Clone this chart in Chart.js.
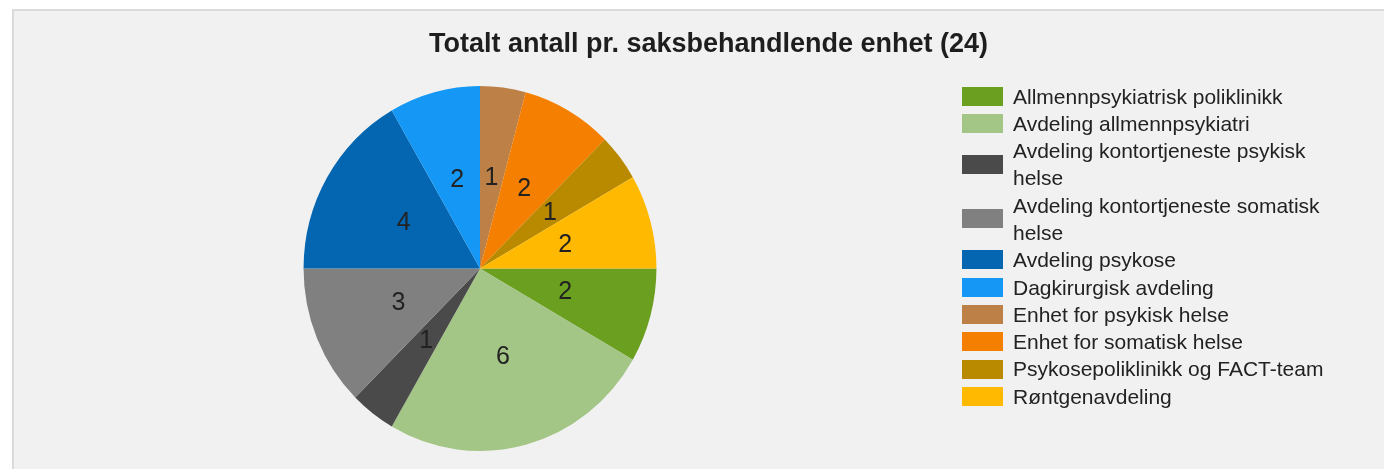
<!DOCTYPE html>
<html>
<head>
<meta charset="utf-8">
<script src="https://cdn.jsdelivr.net/npm/chart.js@4/dist/chart.umd.min.js"></script>
<style>
  html, body { margin: 0; padding: 0; background: #ffffff; overflow: hidden; }
  #stage { position: relative; width: 1384px; height: 469px; }
  #panel { position: absolute; left: 12px; top: 9px; right: -4px; bottom: -4px;
           background: #f1f1f1; border-left: 2px solid #dadada; border-top: 2px solid #dadada; }
  #chart { position: absolute; left: 0; top: 0; }
  #legend { position: absolute; left: 962px; top: 82.5px; margin: 0; padding: 0; list-style: none;
            font-family: "Liberation Sans", Arial, sans-serif; font-size: 21px; line-height: 27.3px; color: #222; }
  #legend li { display: flex; align-items: center; }
  #legend .sw { flex: none; width: 41px; height: 19px; margin-right: 10px; }
  #legend .tx { width: 330px; }
</style>
</head>
<body>
<div id="stage">
  <div id="panel"></div>
  <canvas id="chart" width="1384" height="469"></canvas>
  <ul id="legend"></ul>
</div>
<script>
const titleText = 'Totalt antall pr. saksbehandlende enhet (24)';
const categories = [
  'Allmennpsykiatrisk poliklinikk',
  'Avdeling allmennpsykiatri',
  'Avdeling kontortjeneste psykisk helse',
  'Avdeling kontortjeneste somatisk helse',
  'Avdeling psykose',
  'Dagkirurgisk avdeling',
  'Enhet for psykisk helse',
  'Enhet for somatisk helse',
  'Psykosepoliklinikk og FACT-team',
  'Røntgenavdeling'
];
const values = [2, 6, 1, 3, 4, 2, 1, 2, 1, 2];
const colors = ['#6a9f1f', '#a3c585', '#4a4a4a', '#808080', '#0466b1',
                '#1497f5', '#bd8148', '#f57f00', '#b98900', '#ffb900'];

const LEGEND_SPACE = 457;
// the reference pie is slightly taller than wide
const PIE_SCALE_X = 0.983;
const PIE_SCALE_Y = 1.017;

Chart.defaults.font.family = '"Liberation Sans", Arial, sans-serif';

// reserves room on the right for the legend list
const legendSpace = {
  id: 'legendSpace',
  beforeInit(chart) {
    Chart.layouts.addBox(chart, {
      position: 'right',
      weight: 0,
      fullSize: false,
      options: {},
      isHorizontal() { return false; },
      update(maxWidth, maxHeight) { this.width = LEGEND_SPACE; this.height = maxHeight; },
      draw() {}
    });
  }
};

function pieCenter(chart) {
  const a = chart.chartArea;
  return { x: (a.left + a.right) / 2, y: (a.top + a.bottom) / 2 };
}

// slight elliptical stretch of the pie
const pieStretch = {
  id: 'pieStretch',
  beforeDatasetsDraw(chart) {
    const c = pieCenter(chart);
    const ctx = chart.ctx;
    ctx.save();
    ctx.translate(c.x, c.y);
    ctx.scale(PIE_SCALE_X, PIE_SCALE_Y);
    ctx.translate(-c.x, -c.y);
  },
  afterDatasetsDraw(chart) {
    chart.ctx.restore();
  }
};

// values printed in the middle of each slice
const sliceLabels = {
  id: 'sliceLabels',
  afterDatasetsDraw(chart) {
    const ctx = chart.ctx;
    const meta = chart.getDatasetMeta(0);
    const data = chart.data.datasets[0].data;
    const c = pieCenter(chart);
    ctx.save();
    ctx.font = '25px "Liberation Sans", Arial, sans-serif';
    ctx.fillStyle = '#222';
    ctx.textAlign = 'center';
    ctx.textBaseline = 'middle';
    meta.data.forEach((arc, i) => {
      const p = arc.tooltipPosition();
      const x = c.x + (p.x - c.x) * PIE_SCALE_X;
      const y = c.y + (p.y - c.y) * PIE_SCALE_Y;
      ctx.fillText(String(data[i]), x, y);
    });
    ctx.restore();
  }
};

// legend list built from the chart's own legend items
const htmlLegend = {
  id: 'htmlLegend',
  afterUpdate(chart) {
    const ul = document.getElementById('legend');
    ul.innerHTML = '';
    const items = Chart.overrides.pie.plugins.legend.labels.generateLabels(chart);
    items.forEach(item => {
      const li = document.createElement('li');
      const sw = document.createElement('span');
      sw.className = 'sw';
      sw.style.background = item.fillStyle;
      const tx = document.createElement('span');
      tx.className = 'tx';
      tx.textContent = item.text;
      li.appendChild(sw);
      li.appendChild(tx);
      ul.appendChild(li);
    });
  }
};

new Chart(document.getElementById('chart'), {
  type: 'pie',
  data: {
    labels: categories,
    datasets: [{
      data: values,
      backgroundColor: colors,
      borderWidth: 0,
      hoverOffset: 0
    }]
  },
  options: {
    responsive: false,
    animation: false,
    devicePixelRatio: 1,
    rotation: 90,
    layout: { padding: { left: 33, right: 0, top: 0, bottom: 21 } },
    plugins: {
      legend: { display: false },
      tooltip: { enabled: false },
      title: {
        display: true,
        text: titleText,
        color: '#1e1e1e',
        font: { size: 27, weight: 'bold', lineHeight: 1.2 },
        padding: { top: 28.5, bottom: 28.1 }
      }
    }
  },
  plugins: [legendSpace, pieStretch, sliceLabels, htmlLegend]
});
</script>
</body>
</html>
